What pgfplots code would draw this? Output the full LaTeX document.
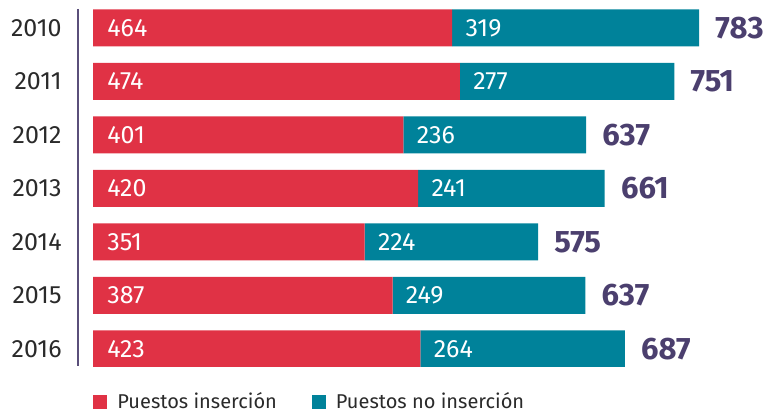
\documentclass[border=0pt]{standalone}
\usepackage{fontspec}
\setmainfont{Fira Sans}
\usepackage{pgfplots}
\pgfplotsset{compat=1.18}
\definecolor{rojo}{HTML}{E03245}
\definecolor{teal}{HTML}{00829A}
\definecolor{morado}{HTML}{4B3F6E}
\definecolor{ejeline}{HTML}{5A4F7A}
\definecolor{texto}{HTML}{2A2A2A}

\pgfplotsset{marco/.style={
    at={(0,0)}, anchor=south west,
    scale only axis, width=345pt, height=178.5pt,
    xmin=-19.4, xmax=872,
    ymin=2009.645, ymax=2016.318, y dir=reverse,
}}

\begin{document}
\begin{tikzpicture}
\useasboundingbox (-39pt,-23.5pt) rectangle (345pt,183pt);
\begin{axis}[
    marco,
    xbar stacked, bar width=18.5pt,
    hide x axis,
    axis lines*=left,
    axis line style={ejeline, line width=0.8pt},
    ytick={2010,2011,2012,2013,2014,2015,2016},
    yticklabels={2010,2011,2012,2013,2014,2015,2016},
    major tick length=0pt,
    yticklabel style={font=\fontsize{12.5}{15}\selectfont, text=texto, inner sep=0pt, anchor=east, xshift=-8pt},
    legend style={at={(0,0)}, anchor=west, xshift=7.5pt, yshift=-18pt,
        draw=none, fill=none, inner sep=0pt, legend columns=-1,
        font=\fontsize{10}{12}\selectfont, text=texto,
        nodes={inner xsep=5pt},
        /tikz/every even column/.append style={column sep=12.5pt}},
    legend image code/.code={\fill[#1] (0pt,-3.5pt) rectangle (7pt,3.5pt);},
]
\addplot[fill=rojo, draw=none]
    coordinates {(464,2010) (474,2011) (401,2012) (420,2013) (351,2014) (387,2015) (423,2016)};
\addplot[fill=teal, draw=none]
    coordinates {(319,2010) (277,2011) (236,2012) (241,2013) (224,2014) (249,2015) (264,2016)};
\legend{Puestos inserción, Puestos no inserción}
\end{axis}
% etiquetas
\begin{axis}[
    marco, hide axis, clip=false,
    point meta=explicit symbolic,
    nodes near coords,
]
\addplot[draw=none, every node near coord/.append style={anchor=west, inner xsep=0pt, xshift=7pt, text=white, font=\fontsize{12.5}{14}\selectfont}]
    coordinates {(0,2010)[464] (0,2011)[474] (0,2012)[401] (0,2013)[420] (0,2014)[351] (0,2015)[387] (0,2016)[423]};
\addplot[draw=none, every node near coord/.append style={anchor=west, inner xsep=0pt, xshift=6.5pt, text=white, font=\fontsize{12.5}{14}\selectfont}]
    coordinates {(464,2010)[319] (474,2011)[277] (401,2012)[236] (420,2013)[241] (351,2014)[224] (387,2015)[249] (423,2016)[264]};
\addplot[draw=none, every node near coord/.append style={anchor=west, inner xsep=0pt, xshift=8pt, text=morado, font=\fontsize{15.5}{17}\selectfont\bfseries}]
    coordinates {(783,2010)[783] (751,2011)[751] (637,2012)[637] (661,2013)[661] (575,2014)[575] (636,2015)[637] (687,2016)[687]};
\end{axis}
\end{tikzpicture}
\end{document}
